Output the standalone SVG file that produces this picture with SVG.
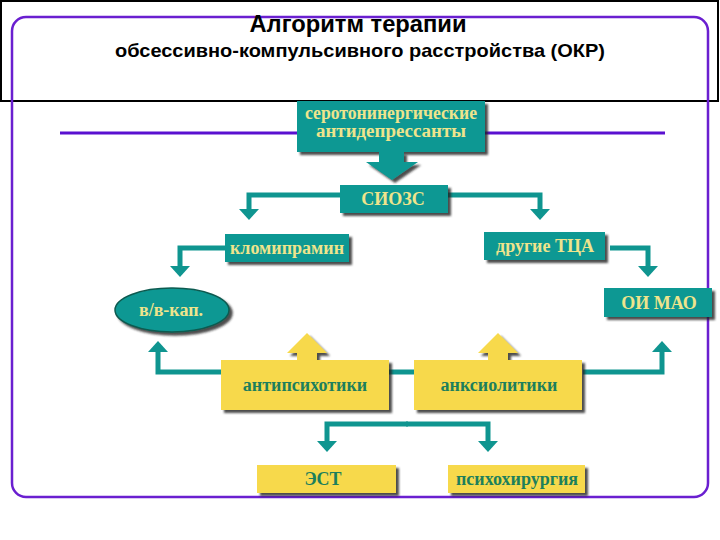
<svg xmlns="http://www.w3.org/2000/svg" width="720" height="540" viewBox="0 0 720 540">
<defs>
<filter id="sh" x="-10%" y="-10%" width="130%" height="140%">
<feDropShadow dx="3" dy="3" stdDeviation="1.2" flood-color="#222" flood-opacity="0.8"/>
</filter>
<marker id="ah" markerWidth="5" markerHeight="4" refX="1.2" refY="2" orient="auto" markerUnits="strokeWidth">
<path d="M0,0 L2.2,2 L0,4 Z" fill="#0f9590"/>
</marker>
</defs>
<style>
.teal{fill:#0f9893;filter:url(#sh)}
.yel{fill:#f7d94c;filter:url(#sh)}
.tt{font-family:"Liberation Serif",serif;font-weight:bold;fill:#efe48c;text-anchor:middle;font-size:18px}
.yt{font-family:"Liberation Serif",serif;font-weight:bold;fill:#1d7f5c;text-anchor:middle;font-size:18px}
.con{fill:none;stroke:#0f9590;stroke-width:5;marker-end:url(#ah)}
.ttl{font-family:"Liberation Sans",Arial,sans-serif;font-weight:bold;fill:#000;text-anchor:middle}
</style>
<rect x="0" y="0" width="720" height="540" fill="#fff"/>
<rect x="1" y="1" width="717" height="100" fill="#fff" stroke="#000" stroke-width="2"/>
<rect x="12" y="17" width="696" height="480" rx="14" fill="none" stroke="#6a1fd0" stroke-width="2.5"/>
<line x1="60" y1="133" x2="665" y2="133" stroke="#5a10d0" stroke-width="3"/>
<g id="title">
<text class="ttl" x="358" y="32" font-size="23" textLength="217" lengthAdjust="spacingAndGlyphs">Алгоритм терапии</text>
<text class="ttl" x="360" y="57" font-size="19" textLength="490" lengthAdjust="spacingAndGlyphs">обсессивно-компульсивного расстройства (ОКР)</text>
</g>
<g id="connectors">
<path class="con" d="M340,195 H249 V215"/>
<path class="con" d="M448,195 H540 V215"/>
<path class="con" d="M225,248 H180 V272"/>
<path class="con" d="M610,248 H648 V272"/>
<path class="con" d="M222,372 H158 V346"/>
<path class="con" d="M583,372 H662 V346"/>
<line x1="388" y1="372" x2="414" y2="372" stroke="#0f9590" stroke-width="5"/>
<path class="con" d="M408,424 H327 V447"/>
<path class="con" d="M406,424 H488 V447"/>
</g>
<g id="serotonin">
<rect class="teal" x="297" y="101" width="188" height="51"/>
<text class="tt" x="391" y="119" font-size="15" textLength="172" lengthAdjust="spacingAndGlyphs">серотонинергические</text>
<text class="tt" x="391" y="137" font-size="15" textLength="150" lengthAdjust="spacingAndGlyphs">антидепрессанты</text>
</g>
<g id="bigarrow">
<path class="teal" d="M379,152 H404 V162 H418 L392,180 L366,162 H379 Z"/>
</g>
<g id="sioss">
<rect class="teal" x="340" y="185" width="108" height="28"/>
<text class="tt" x="393" y="205">СИОЗС</text>
</g>
<g id="clomipramine">
<rect class="teal" x="225" y="234" width="124" height="28"/>
<text class="tt" x="287" y="254">кломипрамин</text>
</g>
<g id="tca">
<rect class="teal" x="484" y="232" width="121" height="28"/>
<text class="tt" x="545" y="252">другие ТЦА</text>
</g>
<g id="iv">
<ellipse class="teal" cx="172" cy="310" rx="57" ry="22" stroke="#0a5a50" stroke-width="1.5"/>
<text class="tt" x="171" y="316" font-size="19">в/в-кап.</text>
</g>
<g id="mao">
<rect class="teal" x="604" y="288" width="108" height="29"/>
<text class="tt" x="659" y="309">ОИ МАО</text>
</g>
<g id="antipsych">
<path class="yel" d="M297,360 V353 H287 L307,333 L327,353 H317 V360 Z"/>
<rect class="yel" x="221" y="360" width="168" height="50"/>
<text class="yt" x="305" y="391">антипсихотики</text>
</g>
<g id="anxiol">
<path class="yel" d="M488,360 V353 H478 L498,333 L518,353 H508 V360 Z"/>
<rect class="yel" x="414" y="360" width="168" height="50"/>
<text class="yt" x="499" y="391">анксиолитики</text>
</g>
<g id="ect">
<rect class="yel" x="257" y="465" width="139" height="28"/>
<text class="yt" x="323" y="485">ЭСТ</text>
</g>
<g id="psychosurgery">
<rect class="yel" x="448" y="465" width="137" height="28"/>
<text class="yt" x="517" y="485">психохирургия</text>
</g>
</svg>
